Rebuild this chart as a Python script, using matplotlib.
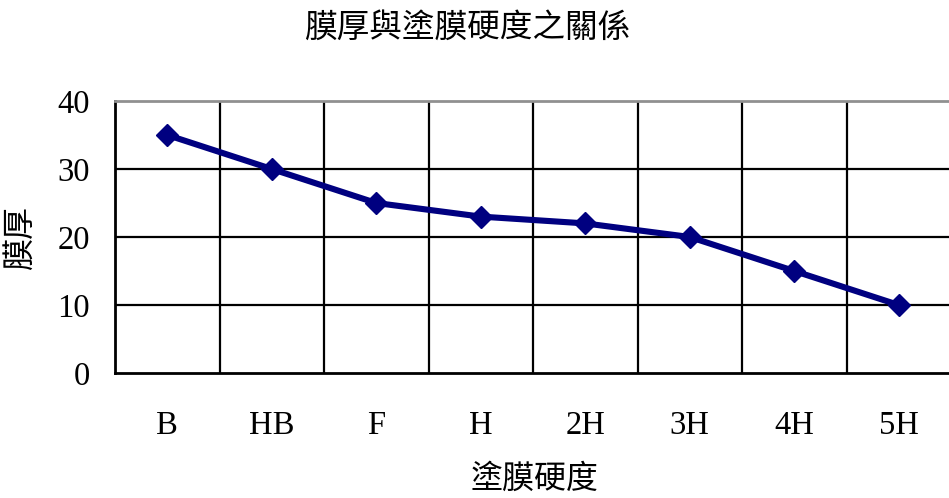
import numpy as np
import matplotlib.pyplot as plt

# hardness grades and measured film thickness
hardness = ["B", "HB", "F", "H", "2H", "3H", "4H", "5H"]
thickness = [35, 30, 25, 23, 22, 20, 15, 10]
y_ticks = [0, 10, 20, 30, 40]

serif = ["Liberation Serif", "Noto Sans CJK TC"]
plt.rcParams["font.family"] = serif

W, H = 949, 498
fig = plt.figure(figsize=(W / 100, H / 100), dpi=100)
ax = fig.add_axes([115 / W, 1 - 373 / H, 836 / W, 272 / H])

x = np.arange(len(hardness))
ax.plot(x, thickness, color="#000080", lw=4.4, marker="D", ms=11,
        mfc="#000080", mec="#000080", solid_joinstyle="round")

ax.set_xlim(-0.5, len(hardness) - 0.5)
ax.set_ylim(0, 40)

# category boundaries as vertical grid
for b in np.arange(0.5, len(hardness) - 0.5, 1.0):
    ax.axvline(b, color="black", lw=1.6, zorder=0)
for t in y_ticks[1:-1]:
    ax.axhline(t, color="black", lw=1.6, zorder=0)

ax.set_xticks(x)
ax.set_xticklabels(hardness)
ax.set_yticks(y_ticks)
ax.tick_params(axis="both", length=0, labelsize=23.5)
ax.tick_params(axis="y", pad=18)
ax.tick_params(axis="x", pad=27)

ax.spines["right"].set_visible(False)
ax.spines["top"].set_color("#909090")
ax.spines["top"].set_linewidth(2)
ax.spines["left"].set_linewidth(2)
ax.spines["bottom"].set_linewidth(2)

ax.set_ylabel("膜厚", fontsize=23, va="center")
ax.set_xlabel("塗膜硬度", fontsize=23, va="center")
ax.xaxis.set_label_coords((535 - 115) / 836, -(479 - 373) / 272)
ax.yaxis.set_label_coords(-(115 - 22) / 836, (373 - 237) / 272)

fig.text(467 / W, 1 - 28 / H, "膜厚與塗膜硬度之關係", fontsize=23.5,
         ha="center", va="center")

fig.savefig("out.png", dpi=100)
